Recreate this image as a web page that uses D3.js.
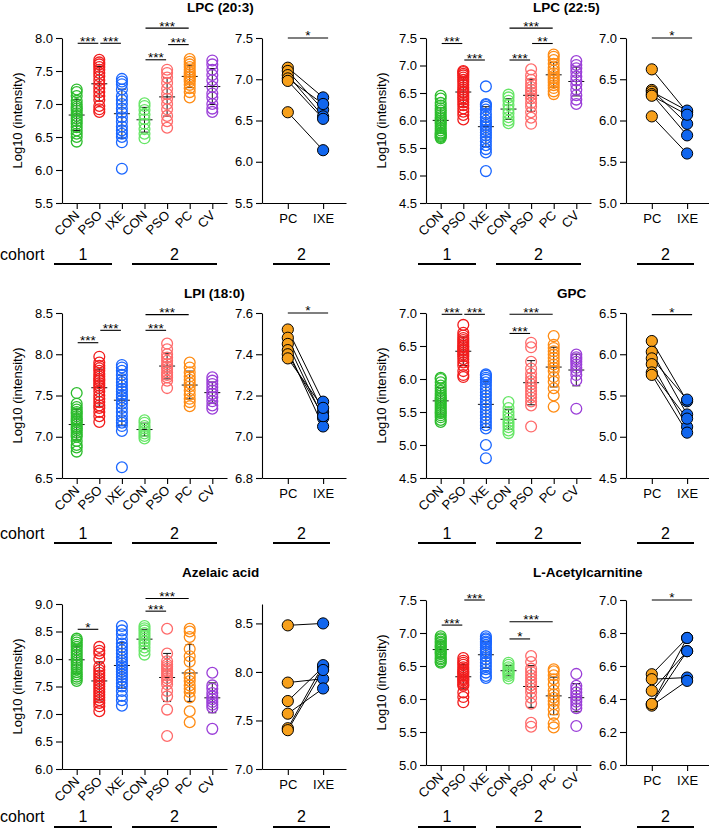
<!DOCTYPE html>
<html><head><meta charset="utf-8">
<script src="https://cdn.jsdelivr.net/npm/d3@7"></script>
<style>
body{margin:0;background:#fff}
svg text{font-family:"Liberation Sans",Arial,Helvetica,sans-serif;fill:#000}
</style>
</head><body>
<svg id="c" width="709" height="830"></svg>
<script>
// ---------------- DATA ----------------
const groupNames = ["CON","PSO","IXE","CON","PSO","PC","CV"];
const pairNames = ["PC","IXE"];
const cohortNames = ["1","2","2"];
const cohortWord = "cohort";
const yLabel = "Log10 (intensity)";
const titles = ["LPC (20:3)","LPC (22:5)","LPI (18:0)","GPC","Azelaic acid","L-Acetylcarnitine"];

// LPC (20:3)
const lpc203Groups = [
  [7.22,7.18,7.12,7.05,7.0,6.96,6.93,6.9,6.86,6.82,6.78,6.74,6.7,6.65,6.6,6.55,6.5,6.43],
  [7.67,7.63,7.6,7.56,7.52,7.47,7.42,7.36,7.3,7.24,7.18,7.12,7.06,6.97,6.92,6.88],
  [7.38,7.34,7.3,7.22,7.12,7.06,7.0,6.93,6.87,6.8,6.73,6.66,6.6,6.55,6.5,6.42,6.02],
  [7.01,6.97,6.91,6.84,6.77,6.7,6.62,6.55,6.48],
  [7.52,7.47,7.4,7.32,7.23,7.15,7.08,7.0,6.92,6.82,6.74,6.64],
  [7.68,7.64,7.6,7.56,7.52,7.48,7.45,7.42,7.4,7.37,7.34,7.29,7.24,7.18,7.1],
  [7.66,7.6,7.52,7.44,7.36,7.26,7.16,7.1,7.0,6.93,6.88]
];
const lpc203PC  = [7.14,7.1,7.05,7.01,6.98,6.6];
const lpc203IXE = [6.78,6.63,6.55,6.7,6.52,6.14];
const lpc203Sig = [[0,1,7.92,"***"],[1,2,7.92,"***"],[3,4,7.67,"***"],[4,5,7.9,"***"],[3,5,8.15,"***"]];
const lpc203PairSig = [7.5,"*"];

// LPC (22:5)
const lpc225Groups = [
  [6.45,6.4,6.32,6.27,6.22,6.18,6.14,6.1,6.06,6.03,6.0,5.97,5.94,5.9,5.86,5.82,5.78,5.76,5.74,5.72,5.7,5.68],
  [6.9,6.88,6.85,6.82,6.78,6.74,6.7,6.65,6.6,6.56,6.52,6.5,6.46,6.42,6.38,6.33,6.28,6.22,6.16,6.1,6.02],
  [6.62,6.3,6.28,6.25,6.2,6.12,6.06,6.0,5.96,5.92,5.88,5.83,5.78,5.73,5.68,5.62,5.55,5.48,5.42,5.08],
  [6.47,6.42,6.36,6.28,6.2,6.13,6.06,6.0,5.95],
  [6.93,6.82,6.74,6.67,6.61,6.56,6.51,6.46,6.4,6.32,6.25,6.15,6.05,5.94],
  [7.2,7.16,7.1,7.03,6.96,6.91,6.86,6.81,6.77,6.73,6.69,6.64,6.59,6.53,6.48],
  [7.08,7.01,6.95,6.88,6.8,6.73,6.65,6.56,6.46,6.38,6.3]
];
const lpc225PC  = [6.62,6.37,6.35,6.32,6.3,6.05];
const lpc225IXE = [6.1,5.96,6.12,5.82,6.07,5.6];
const lpc225Sig = [[0,1,7.4,"***"],[1,2,7.1,"***"],[3,4,7.1,"***"],[4,5,7.4,"**"],[3,5,7.68,"***"]];
const lpc225PairSig = [7.0,"*"];

// LPI (18:0)
const lpiGroups = [
  [7.53,7.4,7.36,7.33,7.3,7.28,7.25,7.22,7.2,7.18,7.15,7.12,7.1,7.08,7.05,7.02,7.0,6.95,6.9,6.87,6.82],
  [7.97,7.9,7.86,7.83,7.8,7.76,7.73,7.7,7.68,7.65,7.62,7.59,7.55,7.5,7.46,7.42,7.38,7.35,7.3,7.25,7.18],
  [7.87,7.84,7.8,7.75,7.7,7.66,7.62,7.58,7.55,7.51,7.48,7.44,7.4,7.35,7.3,7.25,7.2,7.17,7.13,7.07,6.63],
  [7.2,7.17,7.13,7.1,7.07,7.04,7.01,6.98],
  [8.13,8.06,8.0,7.96,7.92,7.88,7.85,7.82,7.78,7.75,7.72,7.68,7.59],
  [7.9,7.84,7.78,7.73,7.69,7.65,7.61,7.56,7.51,7.46,7.42,7.37],
  [7.72,7.68,7.64,7.6,7.56,7.52,7.48,7.43,7.38,7.34]
];
const lpiPC  = [7.52,7.48,7.45,7.42,7.4,7.38];
const lpiIXE = [7.17,7.12,7.09,7.05,7.1,7.14];
const lpiSig = [[0,1,8.14,"***"],[1,2,8.29,"***"],[3,4,8.29,"***"],[3,5,8.48,"***"]];
const lpiPairSig = [7.6,"*"];

// GPC
const gpcGroups = [
  [6.02,6.0,5.95,5.9,5.86,5.82,5.78,5.75,5.72,5.7,5.68,5.65,5.62,5.59,5.56,5.53,5.5,5.48,5.45,5.42,5.38,5.35],
  [6.82,6.7,6.66,6.62,6.59,6.56,6.53,6.5,6.48,6.45,6.43,6.4,6.37,6.34,6.3,6.25,6.2,6.12,6.06,6.03],
  [6.07,6.05,6.02,5.99,5.95,5.9,5.85,5.8,5.75,5.7,5.65,5.6,5.55,5.5,5.45,5.4,5.35,5.3,5.25,5.0,4.8],
  [5.65,5.56,5.5,5.45,5.4,5.35,5.31,5.27,5.22,5.18],
  [6.55,6.48,6.26,6.16,6.08,6.02,5.97,5.92,5.87,5.82,5.77,5.72,5.66,5.6,5.28],
  [6.65,6.52,6.47,6.42,6.37,6.32,6.27,6.22,6.17,6.12,6.03,5.96,5.86,5.75,5.58],
  [6.37,6.33,6.3,6.26,6.22,6.17,6.12,6.06,5.98,5.55]
];
const gpcPC  = [6.16,6.03,5.95,5.88,5.78,5.75];
const gpcIXE = [5.43,5.27,5.45,5.12,5.22,5.05];
const gpcSig = [[0,1,6.98,"***"],[1,2,6.98,"***"],[3,4,6.69,"***"],[3,5,6.98,"***"]];
const gpcPairSig = [6.48,"*"];

// Azelaic acid
const azeGroups = [
  [8.37,8.34,8.3,8.26,8.22,8.17,8.12,8.07,8.02,7.97,7.93,7.89,7.85,7.81,7.76,7.72,7.68,7.64,7.6],
  [8.22,8.15,8.1,8.0,7.86,7.8,7.75,7.7,7.65,7.6,7.55,7.5,7.45,7.4,7.35,7.3,7.25,7.2,7.14,7.05],
  [8.6,8.52,8.45,8.36,8.28,8.22,8.16,8.1,8.03,7.97,7.92,7.87,7.82,7.77,7.72,7.67,7.62,7.56,7.5,7.42,7.33,7.25,7.15],
  [8.6,8.56,8.52,8.47,8.42,8.37,8.32,8.27,8.21,8.15,8.08],
  [8.55,8.1,7.96,7.9,7.86,7.82,7.78,7.74,7.7,7.65,7.6,7.54,7.42,7.32,7.08,6.6],
  [8.55,8.5,8.4,8.18,8.05,7.95,7.72,7.66,7.6,7.52,7.46,7.4,7.3,7.05,6.85],
  [7.75,7.52,7.46,7.38,7.32,7.27,7.22,7.17,7.12,6.73]
];
const azePC  = [8.48,7.89,7.7,7.57,7.42,7.4];
const azeIXE = [8.5,7.93,8.05,7.83,8.07,8.02];
const azeSig = [[0,1,8.54,"*"],[3,4,8.87,"***"],[3,5,9.1,"***"]];
const azePairSig = null;

// L-Acetylcarnitine
const alcGroups = [
  [6.95,6.92,6.9,6.87,6.85,6.82,6.8,6.78,6.75,6.72,6.7,6.68,6.65,6.62,6.6,6.57,6.55],
  [6.62,6.58,6.55,6.52,6.48,6.45,6.42,6.4,6.38,6.35,6.32,6.3,6.28,6.25,6.22,6.2,6.1,6.03,5.95],
  [6.95,6.92,6.9,6.87,6.85,6.82,6.78,6.75,6.72,6.69,6.65,6.6,6.55,6.5,6.45,6.4,6.35,6.32],
  [6.55,6.52,6.48,6.45,6.42,6.4,6.38,6.35,6.31],
  [6.65,6.56,6.46,6.41,6.36,6.31,6.26,6.21,6.16,6.1,6.02,5.93,5.64,5.58],
  [6.45,6.42,6.36,6.3,6.22,6.13,6.07,6.02,5.97,5.92,5.84,5.76,5.63,5.57],
  [6.38,6.2,6.15,6.1,6.05,6.0,5.96,5.91,5.86,5.59]
];
const alcPC  = [6.55,6.52,6.45,6.37,6.36,6.37];
const alcIXE = [6.77,6.53,6.69,6.77,6.51,6.69];
const alcSig = [[0,1,7.12,"***"],[1,2,7.5,"***"],[3,4,6.91,"*"],[3,5,7.17,"***"]];
const alcPairSig = [7.0,"*"];

// axis domains and tick labels
const yDomains = [[5.5,8.0],[4.5,7.5],[6.5,8.5],[4.5,7.0],[6.0,9.0],[5.0,7.5]];
const yTickVals = [
  [5.5,6.0,6.5,7.0,7.5,8.0],
  [4.5,5.0,5.5,6.0,6.5,7.0,7.5],
  [6.5,7.0,7.5,8.0,8.5],
  [4.5,5.0,5.5,6.0,6.5,7.0],
  [6.0,6.5,7.0,7.5,8.0,8.5,9.0],
  [5.0,5.5,6.0,6.5,7.0,7.5]
];
const pDomains = [[5.5,7.5],[5.0,7.0],[6.8,7.6],[4.5,6.5],[7.0,8.7],[6.0,7.0]];
const pTickVals = [
  [5.5,6.0,6.5,7.0,7.5],
  [5.0,5.5,6.0,6.5,7.0],
  [6.8,7.0,7.2,7.4,7.6],
  [4.5,5.0,5.5,6.0,6.5],
  [7.0,7.5,8.0,8.5],
  [6.0,6.2,6.4,6.6,6.8,7.0]
];

// ---------------- STYLE / LAYOUT ----------------
const groupColors = ["#2dbd2d","#f21c1c","#1a66ff","#66e666","#ff6a6a","#ff8c14","#9b3fd8"];
const pairColors = ["#f7a01b","#1166ee"];
const colOffset = [0,364];
const plotTop = [38,38,313,313,604,600];
const plotH = 165;
const titlePos = [[187,12],[533,12],[184,298],[557,298],[182,577],[533,577]];
const cohortRows = [[260,264],[539,543],[822,827]];
const cohortSpans = [[54,112],[132,217],[273,330]];
const FONT = '"Liberation Sans",Arial,Helvetica,sans-serif';

const panels = [
  {g:lpc203Groups,pc:lpc203PC,ixe:lpc203IXE,sig:lpc203Sig,psig:lpc203PairSig},
  {g:lpc225Groups,pc:lpc225PC,ixe:lpc225IXE,sig:lpc225Sig,psig:lpc225PairSig},
  {g:lpiGroups,pc:lpiPC,ixe:lpiIXE,sig:lpiSig,psig:lpiPairSig},
  {g:gpcGroups,pc:gpcPC,ixe:gpcIXE,sig:gpcSig,psig:gpcPairSig},
  {g:azeGroups,pc:azePC,ixe:azeIXE,sig:azeSig,psig:azePairSig},
  {g:alcGroups,pc:alcPC,ixe:alcIXE,sig:alcSig,psig:alcPairSig}
];

const svg = d3.select("#c");
const fmt = d3.format(".1f");

function styleAxis(sel){
  sel.attr("font-family",FONT).attr("font-size",13);
  sel.selectAll("path,line").attr("stroke","#000").attr("stroke-width",1.1);
  sel.selectAll("text").attr("fill","#000");
}

panels.forEach((p,k)=>{
  const col = k%2, row = Math.floor(k/2);
  const ox = colOffset[col];
  const top = plotTop[k], bottom = top+plotH;
  const g = svg.append("g");

  // title
  g.append("text").attr("x",titlePos[k][0]).attr("y",titlePos[k][1])
    .attr("font-size",13.5).attr("font-weight","bold").text(titles[k]);

  // ----- group scatter -----
  const x = d3.scalePoint().domain(d3.range(groupNames.length)).range([ox+62,ox+227]).padding(0.65);
  const y = d3.scaleLinear().domain(yDomains[k]).range([bottom,top]);

  const ya = g.append("g").attr("transform",`translate(${ox+62},0)`)
    .call(d3.axisLeft(y).tickValues(yTickVals[k]).tickFormat(fmt).tickSize(6).tickSizeOuter(0).tickPadding(3));
  styleAxis(ya);
  const xa = g.append("g").attr("transform",`translate(0,${bottom})`)
    .call(d3.axisBottom(x).tickFormat(i=>groupNames[i]).tickSize(6).tickSizeOuter(0));
  styleAxis(xa);
  xa.selectAll("text").attr("x",0).attr("y",0).attr("dy",0)
    .attr("text-anchor","end").attr("transform","translate(3,13) rotate(-45)");

  g.append("text").attr("transform",`translate(${ox+22},${(top+bottom)/2}) rotate(-90)`)
    .attr("text-anchor","middle").attr("font-size",13).text(yLabel);

  // mean ± SD first, then hollow circles on top
  p.g.forEach((vals,i)=>{
    const cx = x(i);
    const m = d3.mean(vals), s = d3.deviation(vals);
    const eb = g.append("g").attr("stroke","#111").attr("stroke-width",1);
    eb.append("line").attr("x1",cx-8).attr("x2",cx+8).attr("y1",y(m)).attr("y2",y(m));
    eb.append("line").attr("x1",cx).attr("x2",cx).attr("y1",y(m-s)).attr("y2",y(m+s));
    eb.append("line").attr("x1",cx-4).attr("x2",cx+4).attr("y1",y(m-s)).attr("y2",y(m-s));
    eb.append("line").attr("x1",cx-4).attr("x2",cx+4).attr("y1",y(m+s)).attr("y2",y(m+s));
  });
  p.g.forEach((vals,i)=>{
    g.append("g").selectAll("circle").data(vals).join("circle")
      .attr("cx",x(i)).attr("cy",d=>y(d)).attr("r",5.4)
      .attr("fill","none").attr("stroke",groupColors[i]).attr("stroke-width",1.3);
  });

  p.sig.forEach(([a,b,lvl,lab])=>{
    const yy = y(lvl);
    g.append("line").attr("x1",x(a)+1).attr("x2",x(b)-1).attr("y1",yy).attr("y2",yy)
      .attr("stroke","#000").attr("stroke-width",1.1);
    g.append("text").attr("x",(x(a)+x(b))/2).attr("y",yy+2.5).attr("text-anchor","middle")
      .attr("font-size",13.5).text(lab);
  });

  // ----- paired plot -----
  const px = d3.scalePoint().domain([0,1]).range([ox+262,ox+346]).padding(0.69).align(0.53);
  const py = d3.scaleLinear().domain(pDomains[k]).range([bottom,top]);
  const pya = g.append("g").attr("transform",`translate(${ox+262},0)`)
    .call(d3.axisLeft(py).tickValues(pTickVals[k]).tickFormat(fmt).tickSize(6).tickSizeOuter(0).tickPadding(3));
  styleAxis(pya);
  const pxa = g.append("g").attr("transform",`translate(0,${bottom})`)
    .call(d3.axisBottom(px).tickFormat(i=>pairNames[i]).tickSize(6).tickSizeOuter(0).tickPadding(6));
  styleAxis(pxa);
  pxa.selectAll("text").attr("y",0).attr("dy",0).attr("transform","translate(0,20)");

  g.append("g").selectAll("line").data(p.pc).join("line")
    .attr("x1",px(0)).attr("x2",px(1)).attr("y1",d=>py(d)).attr("y2",(d,i)=>py(p.ixe[i]))
    .attr("stroke","#000").attr("stroke-width",1);
  [p.pc,p.ixe].forEach((vals,j)=>{
    g.append("g").selectAll("circle").data(vals).join("circle")
      .attr("cx",px(j)).attr("cy",d=>py(d)).attr("r",5.6)
      .attr("fill",pairColors[j]).attr("stroke","#000").attr("stroke-width",1);
  });
  if(p.psig){
    const yy = py(p.psig[0]);
    g.append("line").attr("x1",px(0)).attr("x2",px(1)+5).attr("y1",yy).attr("y2",yy)
      .attr("stroke","#000").attr("stroke-width",1.1);
    g.append("text").attr("x",(px(0)+px(1)+5)/2).attr("y",yy+2).attr("text-anchor","middle")
      .attr("font-size",13.5).text(p.psig[1]);
  }

  // ----- cohort labels -----
  const [ty,ly] = cohortRows[row];
  if(col===0){
    g.append("text").attr("x",0).attr("y",ty).attr("font-size",16).text(cohortWord);
  }
  cohortSpans.forEach(([a,b],i)=>{
    g.append("line").attr("x1",ox+a).attr("x2",ox+b).attr("y1",ly).attr("y2",ly)
      .attr("stroke","#000").attr("stroke-width",2);
    g.append("text").attr("x",ox+(a+b)/2).attr("y",ty).attr("text-anchor","middle")
      .attr("font-size",16).text(cohortNames[i]);
  });
});
</script>
</body></html>
